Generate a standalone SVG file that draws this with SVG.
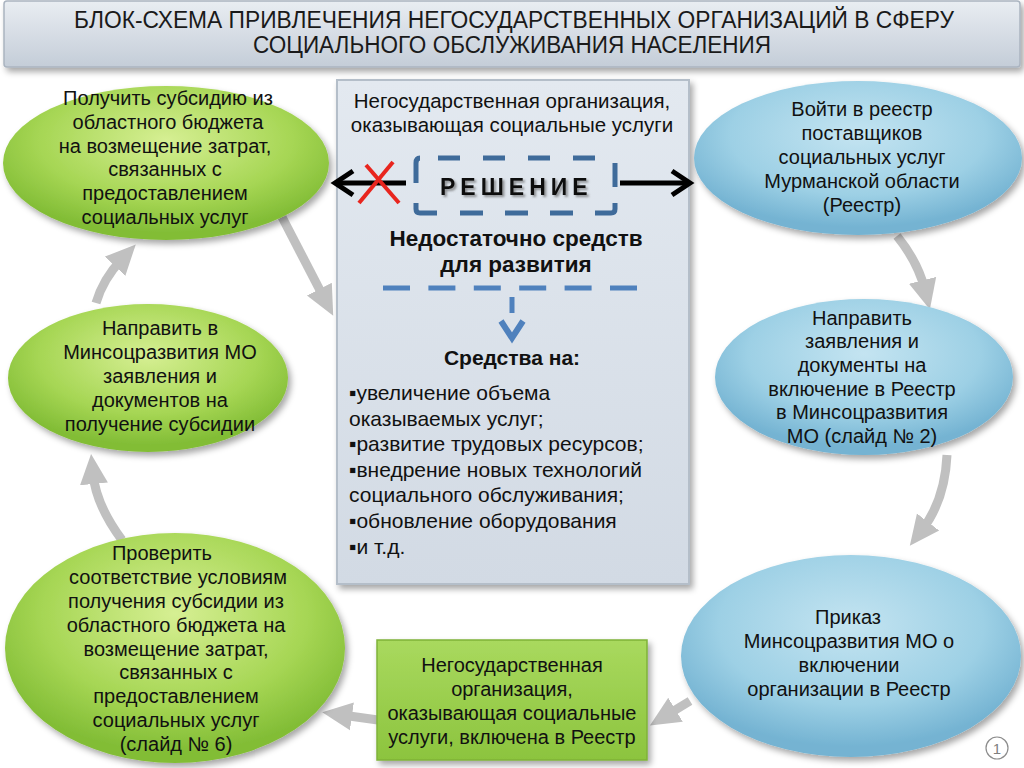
<svg xmlns="http://www.w3.org/2000/svg" width="1024" height="768" viewBox="0 0 1024 768">
<defs>
<style>
.t{font-family:"Liberation Sans",Arial,sans-serif;font-size:20px;fill:#111;text-anchor:middle}
.tn{font-family:"Liberation Sans",Arial,sans-serif;font-size:20px;fill:#111;text-anchor:middle}
.ttl{font-family:"Liberation Sans Narrow","Liberation Sans",Arial,sans-serif;font-size:23px;fill:#1a1a1a;text-anchor:middle}
.b{font-weight:bold}
.li{font-family:"Liberation Sans",Arial,sans-serif;font-size:21px;fill:#111}
.gray{fill:none;stroke:#c0c0c0;stroke-width:9}
.blk{fill:none;stroke:#000;stroke-width:5}
.dash{fill:none;stroke:#3f6b9a;stroke-width:5}
</style>
<radialGradient id="gG" cx="50%" cy="35%" r="60%">
<stop offset="0" stop-color="#d6ef93"/>
<stop offset="0.65" stop-color="#a6d654"/>
<stop offset="1" stop-color="#82bd36"/>
</radialGradient>
<radialGradient id="gB" cx="50%" cy="35%" r="60%">
<stop offset="0" stop-color="#c4e4f1"/>
<stop offset="0.65" stop-color="#9dd0e5"/>
<stop offset="1" stop-color="#74b3d2"/>
</radialGradient>
<linearGradient id="gBox" x1="0" y1="0" x2="0" y2="1">
<stop offset="0" stop-color="#e3e9f0"/>
<stop offset="1" stop-color="#d2dae4"/>
</linearGradient>
<linearGradient id="gTitle" x1="0" y1="0" x2="0" y2="1">
<stop offset="0" stop-color="#e9edf2"/>
<stop offset="1" stop-color="#c4cdd8"/>
</linearGradient>
<linearGradient id="gGreenBox" x1="0" y1="0" x2="0" y2="1">
<stop offset="0" stop-color="#a9d95e"/>
<stop offset="1" stop-color="#8cc43e"/>
</linearGradient>
<filter id="sh" x="-10%" y="-10%" width="125%" height="130%">
<feDropShadow dx="3" dy="4" stdDeviation="3" flood-color="#000" flood-opacity="0.35"/>
</filter>
<filter id="tsh" x="-5%" y="-20%" width="115%" height="160%">
<feDropShadow dx="2" dy="2" stdDeviation="1" flood-color="#555" flood-opacity="0.6"/>
</filter>
<marker id="ah" viewBox="0 0 30 30" markerWidth="30" markerHeight="30" refX="10" refY="15" orient="auto" markerUnits="userSpaceOnUse">
<path d="M0,1 L30,15 L0,29 Z" fill="#c0c0c0"/>
</marker>
</defs>

<rect width="1024" height="768" fill="#ffffff"/>

<g id="title">
<rect x="4" y="1" width="1016" height="66" rx="3" fill="url(#gTitle)" stroke="#aab4c0" stroke-width="1.5" filter="url(#sh)"/>
<text class="ttl" x="514" y="28" textLength="880" lengthAdjust="spacingAndGlyphs">БЛОК-СХЕМА ПРИВЛЕЧЕНИЯ НЕГОСУДАРСТВЕННЫХ ОРГАНИЗАЦИЙ В СФЕРУ</text>
<text class="ttl" x="512" y="53" textLength="518" lengthAdjust="spacingAndGlyphs">СОЦИАЛЬНОГО ОБСЛУЖИВАНИЯ НАСЕЛЕНИЯ</text>
</g>

<g id="connectors">
<path class="gray" d="M282,217 L324,298" marker-end="url(#ah)"/>
<path class="gray" d="M96,303 Q103,279 122,259" marker-end="url(#ah)"/>
<path class="gray" d="M122,540 Q96,505 93,474" marker-end="url(#ah)"/>
<path class="gray" d="M378,720 L342,715" marker-end="url(#ah)"/>
<path class="gray" d="M690,701 L667,715" marker-end="url(#ah)"/>
<path class="gray" d="M897,236 Q918,262 925,290" marker-end="url(#ah)"/>
<path class="gray" d="M947,455 Q945,500 922,530" marker-end="url(#ah)"/>
</g>

<g id="center">
<rect x="337" y="80" width="352" height="504" fill="url(#gBox)" stroke="#b4bec9" stroke-width="2" filter="url(#sh)"/>
<text class="t" x="512" y="108" style="font-size:20.5px">Негосударственная организация,</text>
<text class="t" x="512" y="132" style="font-size:20.5px">оказывающая социальные услуги</text>
<path class="dash" d="M416,183 L416,163 Q416,158 420,158 M438,158 L460,158 M483,158 L505,158 M528,158 L550,158 M573,158 L595,158 M615,163 L615,187 M416,203 L416,209 Q416,213 420,213 L437,213 M460,213 L483,213 M505,213 L528,213 M550,213 L573,213 M595,213 L611,213 Q615,213 615,209 L615,203"/>
<text x="440" y="195" letter-spacing="5" filter="url(#tsh)" style="font-family:'Liberation Sans',Arial,sans-serif;font-weight:bold;font-size:23px;fill:#111">РЕШЕНИЕ</text>
<text class="t b" x="516" y="246" style="font-size:22.5px">Недостаточно средств</text>
<text class="t b" x="516" y="272" style="font-size:22.5px">для развития</text>
<line x1="383" y1="288" x2="637" y2="288" stroke="#4f81bd" stroke-width="5" stroke-dasharray="27 18.4"/>
<line x1="512" y1="297" x2="512" y2="313" stroke="#4f81bd" stroke-width="5"/>
<polyline points="501,321 512,338 523,321" fill="none" stroke="#4f81bd" stroke-width="6"/>
<text class="t b" x="512" y="365" style="font-size:21px">Средства на:</text>
<text class="li" x="349" y="400">▪увеличение объема</text>
<text class="li" x="349" y="426">оказываемых услуг;</text>
<text class="li" x="349" y="451">▪развитие трудовых ресурсов;</text>
<text class="li" x="349" y="477">▪внедрение новых технологий</text>
<text class="li" x="349" y="502">социального обслуживания;</text>
<text class="li" x="349" y="528">▪обновление оборудования</text>
<text class="li" x="349" y="554">▪и т.д.</text>
</g>

<g id="decision-arrows">
<line class="blk" x1="406" y1="183" x2="336" y2="183"/>
<polyline class="blk" points="353,171 335,183 353,195"/>
<line class="blk" x1="620" y1="183" x2="690" y2="183"/>
<polyline class="blk" points="672,171 690,183 672,195"/>
<line x1="393" y1="162" x2="359" y2="203" stroke="#e8251e" stroke-width="4"/>
<line x1="366" y1="165" x2="399" y2="203" stroke="#e8251e" stroke-width="4"/>
</g>

<g id="g1">
<ellipse cx="166" cy="163" rx="163" ry="77" fill="url(#gG)" filter="url(#sh)"/>
<text class="t" x="168" y="105">Получить субсидию из</text>
<text class="t" x="168" y="129">областного бюджета</text>
<text class="t" x="165" y="153">на возмещение затрат,</text>
<text class="t" x="165" y="176">связанных с</text>
<text class="t" x="165" y="200">предоставлением</text>
<text class="t" x="165" y="224">социальных услуг</text>
</g>

<g id="g2">
<ellipse cx="148" cy="378" rx="140" ry="74" fill="url(#gG)" filter="url(#sh)"/>
<text class="t" x="160" y="335">Направить в</text>
<text class="t" x="160" y="359">Минсоцразвития МО</text>
<text class="t" x="160" y="383">заявления и</text>
<text class="t" x="160" y="407">документов на</text>
<text class="t" x="160" y="431">получение субсидии</text>
</g>

<g id="g3">
<ellipse cx="175" cy="648" rx="170" ry="115" fill="url(#gG)" filter="url(#sh)"/>
<text class="t" x="162" y="560">Проверить</text>
<text class="t" x="178" y="584">соответствие условиям</text>
<text class="t" x="176" y="608">получения субсидии из</text>
<text class="t" x="176" y="632">областного бюджета на</text>
<text class="t" x="176" y="656">возмещение затрат,</text>
<text class="t" x="176" y="679">связанных с</text>
<text class="t" x="176" y="703">предоставлением</text>
<text class="t" x="176" y="727">социальных услуг</text>
<text class="t" x="176" y="751">(слайд № 6)</text>
</g>

<g id="b1">
<ellipse cx="858" cy="158" rx="164" ry="77" fill="url(#gB)" filter="url(#sh)"/>
<text class="t" x="862" y="116">Войти в реестр</text>
<text class="t" x="862" y="140">поставщиков</text>
<text class="t" x="862" y="164">социальных услуг</text>
<text class="t" x="862" y="188">Мурманской области</text>
<text class="t" x="862" y="212">(Реестр)</text>
</g>

<g id="b2">
<ellipse cx="864" cy="377" rx="149" ry="78" fill="url(#gB)" filter="url(#sh)"/>
<text class="t" x="862" y="325">Направить</text>
<text class="t" x="862" y="348">заявления и</text>
<text class="t" x="862" y="372">документы на</text>
<text class="t" x="862" y="396">включение в Реестр</text>
<text class="t" x="862" y="419">в Минсоцразвития</text>
<text class="t" x="862" y="443">МО (слайд № 2)</text>
</g>

<g id="b3">
<ellipse cx="851" cy="656" rx="170" ry="101" fill="url(#gB)" filter="url(#sh)"/>
<text class="tn" x="848" y="624">Приказ</text>
<text class="tn" x="849" y="648">Минсоцразвития МО о</text>
<text class="tn" x="849" y="672">включении</text>
<text class="tn" x="849" y="696">организации в Реестр</text>
</g>

<g id="greenbox">
<rect x="377" y="640" width="270" height="120" fill="url(#gGreenBox)" stroke="#7fb238" stroke-width="1.5" filter="url(#sh)"/>
<text class="tn" x="512" y="672">Негосударственная</text>
<text class="tn" x="512" y="696">организация,</text>
<text class="tn" x="512" y="720">оказывающая социальные</text>
<text class="tn" x="512" y="744">услуги, включена в Реестр</text>
</g>

<g id="pagenum">
<circle cx="997" cy="748" r="11" fill="none" stroke="#8c8c8c" stroke-width="1.2"/>
<text x="997" y="754" style="font-family:'Liberation Sans',Arial,sans-serif;font-size:15px;fill:#7f7f7f;text-anchor:middle">1</text>
</g>
</svg>
